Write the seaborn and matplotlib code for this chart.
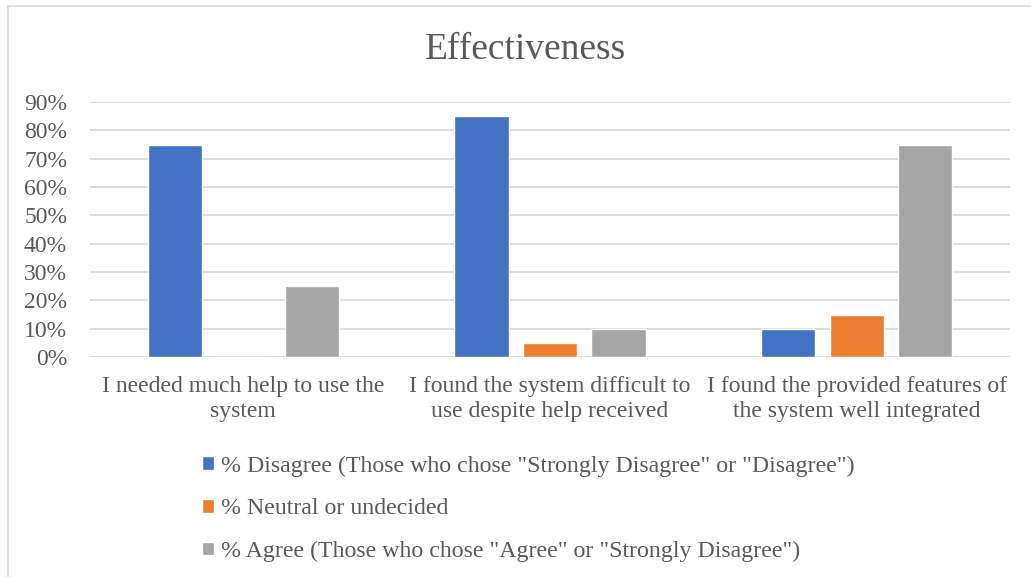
import matplotlib
matplotlib.use("Agg")
import matplotlib.pyplot as plt
import seaborn as sns
import pandas as pd
from matplotlib.patches import Rectangle
from matplotlib.ticker import PercentFormatter

categories = [
    "I needed much help to use the\nsystem",
    "I found the system difficult to\nuse despite help received",
    "I found the provided features of\nthe system well integrated",
]
series = [
    '% Disagree (Those who chose "Strongly Disagree" or "Disagree")',
    "% Neutral or undecided",
    '% Agree (Those who chose "Agree" or "Strongly Disagree")',
]
disagree = [0.75, 0.85, 0.10]
neutral = [0.00, 0.05, 0.15]
agree = [0.25, 0.10, 0.75]
colors = ["#4472C4", "#ED7D31", "#A5A5A5"]
yticks = [0, 0.1, 0.2, 0.3, 0.4, 0.5, 0.6, 0.7, 0.8, 0.9]

rows = []
for vals, s in zip([disagree, neutral, agree], series):
    for c, v in zip(categories, vals):
        rows.append({"category": c, "series": s, "value": v})
df = pd.DataFrame(rows)

sns.set_theme(style="white")
plt.rcParams["font.family"] = ["Liberation Serif", "DejaVu Serif"]
txt = "#595959"

W, H = 1031, 577
fig = plt.figure(figsize=(W / 100, H / 100), dpi=100)
ax = fig.add_axes([90 / W, 1 - 357 / H, 920 / W, 255 / H])

sns.barplot(data=df, x="category", y="value", hue="series", order=categories,
            hue_order=series, palette=colors, width=0.67, gap=0.21,
            saturation=1, ax=ax, legend=True)

ax.set_xlim(-0.5, 2.5)
ax.set_ylim(0, 0.9)
ax.set_yticks(yticks)
ax.yaxis.set_major_formatter(PercentFormatter(1.0, decimals=0))
ax.grid(axis="y", color="#D9D9D9", linewidth=1.3)
ax.set_axisbelow(True)
for sp in ax.spines.values():
    sp.set_visible(False)
ax.set_xlabel("")
ax.set_ylabel("")
ax.tick_params(axis="y", labelsize=17, colors=txt, length=0, pad=16.5)
ax.tick_params(axis="x", labelsize=17, colors=txt, length=0, pad=14)
for lab in ax.get_xticklabels():
    lab.set_linespacing(1.25)

fig.text(525 / W, 1 - 50 / H, "Effectiveness", ha="center", va="center",
         fontsize=27, color=txt)

handles, labels = ax.get_legend_handles_labels()
ax.legend_.remove()
fig.legend(handles, labels, loc="upper left",
           bbox_to_anchor=(192.5 / W, 1 - 446 / H), frameon=False,
           fontsize=17.2, labelcolor=txt, handlelength=0.51, handleheight=0.51,
           handletextpad=0.3, labelspacing=0.9, borderaxespad=0)

fig.patches.append(Rectangle((8 / W, -0.1), 1.2, 1 - 6 / H + 0.1,
                             transform=fig.transFigure, fill=False,
                             edgecolor="#D9D9D9", linewidth=1.2))

fig.savefig("out.png", dpi=100)
